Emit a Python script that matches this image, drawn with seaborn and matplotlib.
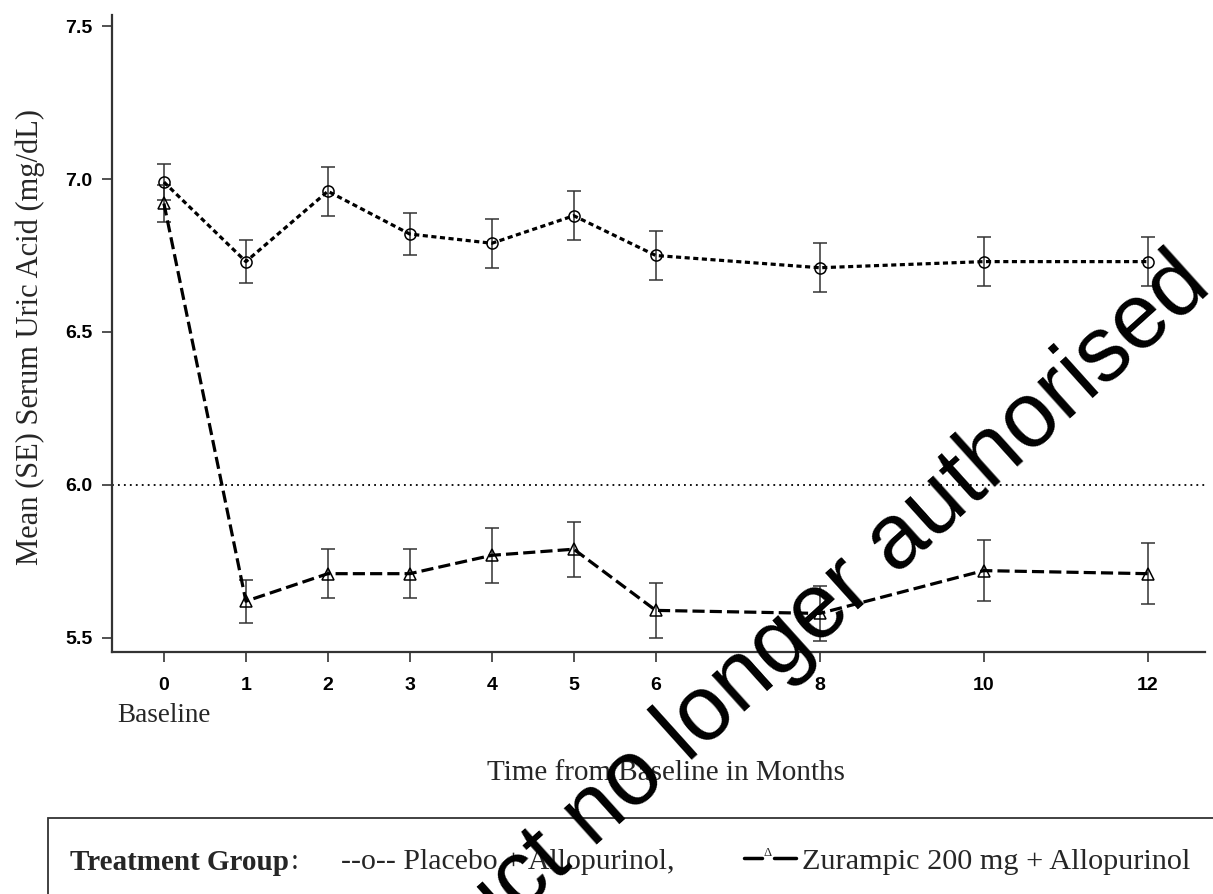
import numpy as np
import pandas as pd
import matplotlib
matplotlib.use("Agg")
import matplotlib.pyplot as plt
from matplotlib.patches import Rectangle
from matplotlib.lines import Line2D
import seaborn as sns

# ---- data ----
months = [0, 1, 2, 3, 4, 5, 6, 8, 10, 12]
placebo_mean = [6.99, 6.73, 6.96, 6.82, 6.79, 6.88, 6.75, 6.71, 6.73, 6.73]
placebo_se = [0.06, 0.07, 0.08, 0.07, 0.08, 0.08, 0.08, 0.08, 0.08, 0.08]
zur_mean = [6.92, 5.62, 5.71, 5.71, 5.77, 5.79, 5.59, 5.58, 5.72, 5.71]
zur_se = [0.06, 0.07, 0.08, 0.08, 0.09, 0.09, 0.09, 0.09, 0.10, 0.10]
groups = ["Placebo + Allopurinol", "Zurampic 200 mg + Allopurinol"]
y_ticks = [5.5, 6.0, 6.5, 7.0, 7.5]
target_line = 6.0

df = pd.DataFrame({
    "month": months * 2,
    "mean": placebo_mean + zur_mean,
    "group": [groups[0]] * len(months) + [groups[1]] * len(months),
})

sns.set_theme(style="ticks")
plt.rcParams["font.family"] = ["Liberation Sans", "DejaVu Sans"]
serif = ["Liberation Serif", "DejaVu Serif"]

fig = plt.figure(figsize=(12.13, 8.94), dpi=100)
ax = fig.add_axes([0.0923, 0.2707, 0.9011, 0.7125])

# reference line
ax.axhline(target_line, color="black", lw=1.3, dashes=(1, 2.3), zorder=1)

# error bars
ax.errorbar(months, placebo_mean, yerr=placebo_se, fmt="none", ecolor="#333333",
            elinewidth=1.1, capsize=5, capthick=1.1, zorder=2)
ax.errorbar(months, zur_mean, yerr=zur_se, fmt="none", ecolor="#333333",
            elinewidth=1.1, capsize=5, capthick=1.1, zorder=2)

sns.lineplot(data=df, x="month", y="mean", hue="group", style="group",
             palette=["black", "black"],
             markers={groups[0]: "o", groups[1]: "^"},
             dashes={groups[0]: (1.6, 1.1), groups[1]: (3.8, 1.6)},
             lw=2.3, markersize=8, ax=ax, legend=False, errorbar=None, zorder=3)
for ln in ax.get_lines():
    if ln.get_marker() in ("o", "^"):
        ln.set_markerfacecolor("none")
        ln.set_markeredgecolor("black")
        ln.set_markeredgewidth(1.1)

ax.set_xlim(-0.634, 12.7)
ax.set_ylim(5.454, 7.536)
ax.set_xticks(months)
ax.set_xticklabels([str(m) for m in months])
ax.set_yticks(y_ticks)
ax.set_yticklabels([f"{v:.1f}" for v in y_ticks])
ax.tick_params(axis="both", which="major", length=7, width=1.2, color="#333333",
               labelsize=14, labelcolor="black")
ax.tick_params(axis="x", pad=11)
ax.tick_params(axis="y", pad=7)
for lab in ax.get_xticklabels() + ax.get_yticklabels():
    lab.set_fontweight("bold")
sns.despine(ax=ax)
for s in ("left", "bottom"):
    ax.spines[s].set_linewidth(1.6)
    ax.spines[s].set_color("#333333")

ax.set_ylabel("Mean (SE) Serum Uric Acid (mg/dL)", family=serif, fontsize=22, va="center")
ax.yaxis.set_label_coords(-0.075, 0.494)
ax.set_xlabel("Time from Baseline in Months", family=serif, fontsize=21, va="center")
ax.xaxis.set_label_coords(0.507, -0.19)
ax.text(0, -0.099, "Baseline", transform=ax.get_xaxis_transform(), ha="center",
        va="center", family=serif, fontsize=19.5)

# legend box
fig.patches.append(Rectangle((48 / 1213, -0.1), 1.2, 1 - 818 / 894 + 0.1,
                             transform=fig.transFigure, fill=False,
                             edgecolor="#333333", lw=1.3))
ly = 1 - 862 / 894
tg = fig.text(70 / 1213, ly, "Treatment Group", family=serif, fontsize=21,
              fontweight="bold", va="center")
ax.annotate(":", xy=(1, 0.5), xycoords=tg, xytext=(1, 0), textcoords="offset points",
            family=serif, fontsize=21, va="center", ha="left", annotation_clip=False)
fig.text(341 / 1213, ly, "--o-- Placebo + Allopurinol,", family=serif, fontsize=21.5,
         va="center")
fig.lines.append(Line2D([744 / 1213, 762 / 1213], [ly + 0.004, ly + 0.004],
                        transform=fig.transFigure, color="black", lw=2.5))
fig.lines.append(Line2D([774 / 1213, 796 / 1213], [ly + 0.004, ly + 0.004],
                        transform=fig.transFigure, color="black", lw=2.5))
fig.text(768 / 1213, ly + 0.010, "Δ", family=serif, fontsize=9, ha="center",
         va="center")
fig.text(802 / 1213, ly, "Zurampic 200 mg + Allopurinol", family=serif, fontsize=21.8,
         va="center")

# watermark
fig.text(1.0, 0.676, "Medicinal product no longer authorised",
         fontsize=66, family=["Liberation Sans", "DejaVu Sans"], color="black",
         rotation=42, rotation_mode="anchor", ha="right", va="baseline", zorder=10)

fig.savefig("out.png", dpi=100)
